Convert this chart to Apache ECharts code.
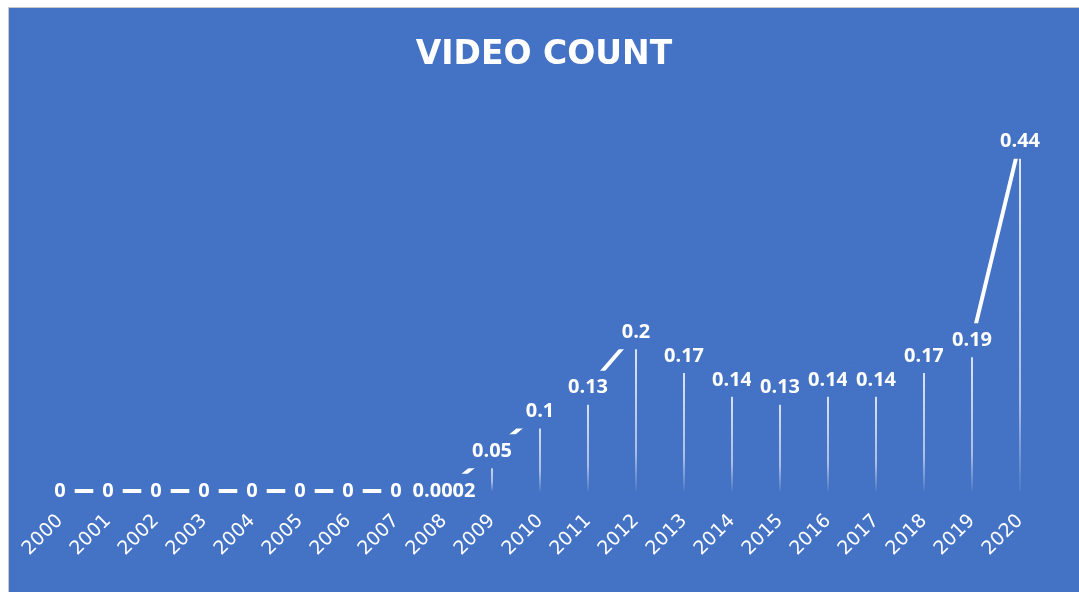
<!DOCTYPE html>
<html>
<head>
<meta charset="utf-8">
<script src="https://cdn.jsdelivr.net/npm/echarts@6/dist/echarts.min.js"></script>
<style>
    html, body { margin: 0; padding: 0; background: #ffffff; }
    #frame {
        position: absolute; left: 8px; top: 7px; width: 1071px; height: 585px;
        background: #c9c9c9;
    }
    #chart {
        position: absolute; left: 1px; top: 1px; width: 1070px; height: 584px;
    }
</style>
</head>
<body>
<div id="frame"><div id="chart"></div></div>
<script>
// 年份
var years = ['2000', '2001', '2002', '2003', '2004', '2005', '2006', '2007', '2008', '2009',
    '2010', '2011', '2012', '2013', '2014', '2015', '2016', '2017', '2018', '2019', '2020'];
// 视频数量
var videoCount = [0, 0, 0, 0, 0, 0, 0, 0, 0.0002, 0.05,
    0.1, 0.13, 0.2, 0.17, 0.14, 0.13, 0.14, 0.14, 0.17, 0.19, 0.44];

var bgColor = '#4472C4';
var myChart = echarts.init(document.getElementById('chart'));

var option = {
    backgroundColor: bgColor,
    animation: false,
    title: {
        text: 'VIDEO COUNT',
        left: 'center',
        top: 26,
        textStyle: {
            color: '#ffffff',
            fontFamily: 'DejaVu Sans',
            fontWeight: 'bold',
            fontSize: 33
        }
    },
    grid: {
        left: 51,
        right: 59,
        top: 86,
        bottom: 101
    },
    xAxis: {
        type: 'category',
        data: years,
        boundaryGap: false,
        axisLine: { show: false },
        axisTick: { show: false },
        axisLabel: {
            rotate: 45,
            margin: 27,
            color: '#ffffff',
            fontFamily: 'DejaVu Sans',
            fontSize: 19
        }
    },
    yAxis: {
        type: 'value',
        min: 0,
        max: 0.5,
        show: false,
        splitLine: { show: false }
    },
    series: [
        {
            // 垂直引线
            name: 'drop',
            type: 'bar',
            barWidth: 2,
            data: videoCount,
            itemStyle: {
                color: new echarts.graphic.LinearGradient(0, 0, 0, 1, [
                    { offset: 0, color: 'rgba(255,255,255,0.85)' },
                    { offset: 0.75, color: 'rgba(255,255,255,0.55)' },
                    { offset: 1, color: 'rgba(255,255,255,0.05)' }
                ])
            },
            silent: true
        },
        {
            name: '视频数量',
            type: 'line',
            data: videoCount,
            symbol: 'circle',
            symbolSize: 1,
            lineStyle: { color: '#ffffff', width: 4 },
            itemStyle: { color: '#ffffff' },
            label: {
                show: true,
                position: 'inside',
                color: '#ffffff',
                fontFamily: 'Open Sans',
                fontWeight: 'bold',
                fontSize: 20,
                backgroundColor: bgColor,
                padding: [7, 9]
            }
        }
    ]
};
myChart.setOption(option);

window.addEventListener('resize', function() {
    myChart.resize();
});
</script>
</body>
</html>
